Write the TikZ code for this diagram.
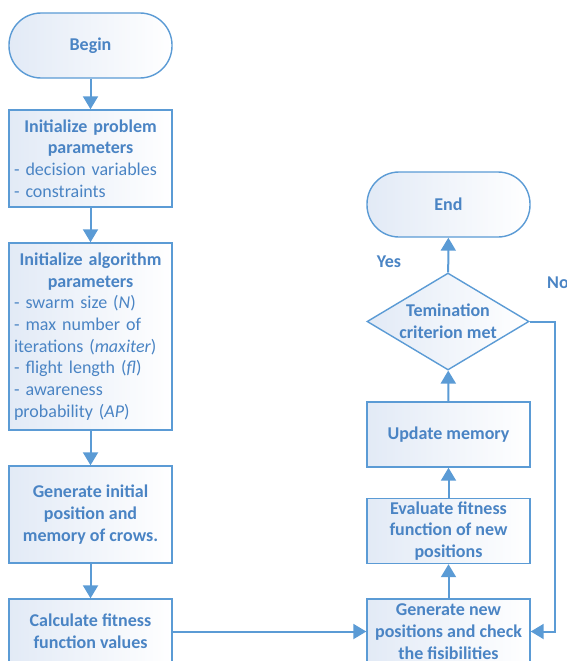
\documentclass[tikz,border=0pt]{standalone}
\usepackage{fontspec}
\setmainfont{Carlito}
\usetikzlibrary{shapes.geometric,arrows.meta}

\definecolor{flowline}{HTML}{5B9BD5}
\definecolor{flowtext}{HTML}{4A84C4}
\definecolor{flowfill}{HTML}{E2EAF6}

\begin{document}
\begin{tikzpicture}[x=1pt,y=-1pt,
  every node/.style={text=flowtext,font=\fontsize{18}{21.7}\selectfont},
  proc/.style={draw=flowline,line width=1.4pt,left color=flowfill,right color=white,
    minimum width=163pt,inner sep=2pt,align=center},
  listbox/.style={proc,text width=153pt,inner xsep=5pt,align=left},
  term/.style={proc,rounded corners=32pt},
  test/.style={diamond,draw=flowline,line width=1.4pt,left color=flowfill,right color=white,
    minimum width=162pt,minimum height=97pt,inner sep=0pt},
  flow/.style={draw=flowline,line width=2pt,-{Triangle[width=15pt,length=13pt]}}]

\useasboundingbox (0,0) rectangle (567,661);
\clip (0,0) rectangle (567,661);

%% left column
\node[term,minimum height=65pt] (begin) at (90.5,45.5) {\bfseries Begin};
\node[listbox,minimum height=97pt] (probpar) at (90.5,158.5)
  {{\centering\bfseries Initialize problem\par parameters\par}%
   - decision variables\\- constraints};
\node[listbox,minimum height=187pt] (algpar) at (90.5,336.5)
  {{\centering\bfseries Initialize algorithm\par parameters\par}%
   - swarm size (\textit{N})\\- max number of\\iterations (\textit{maxiter})\\%
   - flight length (\textit{fl})\\- awareness\\probability (\textit{AP})};
\node[proc,minimum height=97pt] (initpos) at (90.5,514.5)
  {\bfseries Generate initial\\\bfseries position and\\\bfseries memory of crows.};
\node[proc,minimum height=65pt] (fitness) at (90.5,631.5)
  {\bfseries Calculate fitness\\\bfseries function values};

%% right column
\node[term,minimum height=65pt] (end) at (448.5,204.5) {\bfseries End};
\node[test] (check) at (448,321.5) {};
\node[align=center] (checktext) at (check) {\bfseries Temination\\\bfseries criterion met};
\node[proc,minimum height=65pt] (update) at (448.5,434.5) {\bfseries Update memory};
\node[proc,minimum height=65pt] (evaluate) at (448.5,531)
  {\bfseries Evaluate fitness\\\bfseries function of new\\\bfseries positions};
\node[proc,minimum height=65pt] (newpos) at (448.5,631.5)
  {\bfseries Generate new\\\bfseries positions and check\\\bfseries the fisibilities};

%% branch labels
\node (yes) at (389,262) {\bfseries Yes};
\node[anchor=west,inner sep=0pt] (no) at (547,283) {\bfseries No};
\coordinate (bend) at (555,321.5);

%% edges
\draw[flow] (begin) -- (probpar);
\draw[flow] (probpar) -- (algpar);
\draw[flow] (algpar) -- (initpos);
\draw[flow] (initpos) -- (fitness);
\draw[flow] (fitness) -- (newpos);
\draw[flow] (newpos) -- (evaluate);
\draw[flow] (evaluate) -- (update);
\draw[flow] (update) -- (check);
\draw[flow] (check) -- (end);
\draw[flow] (check.east) -- (bend) |- (newpos.east);
\end{tikzpicture}
\end{document}
